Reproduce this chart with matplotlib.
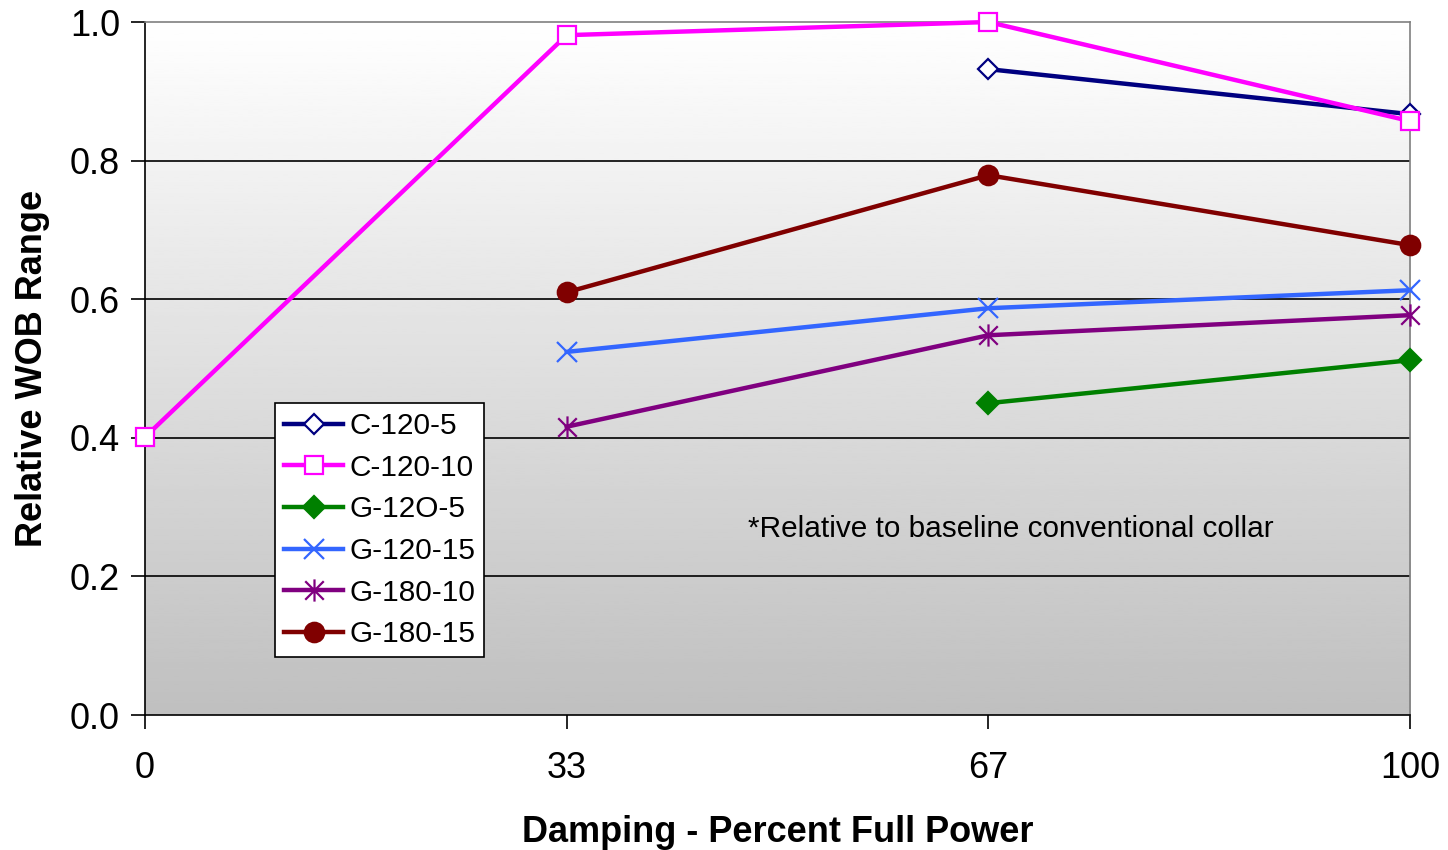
import numpy as np
import matplotlib.pyplot as plt
from matplotlib.path import Path

plt.rcParams['font.family'] = ['Liberation Sans', 'DejaVu Sans']

# Damping levels (categorical x axis)
damping = ['0', '33', '67', '100']

# Relative WOB range per configuration (None = not tested)
c120_5 = [None, None, 0.932, 0.867]
c120_10 = [0.401, 0.981, 1.0, 0.857]
g120_5 = [None, None, 0.450, 0.512]
g120_15 = [None, 0.524, 0.587, 0.613]
g180_10 = [None, 0.416, 0.548, 0.577]
g180_15 = [None, 0.610, 0.779, 0.678]

# x-plus-vertical asterisk marker
star = Path([(-1, -1), (1, 1), (-1, 1), (1, -1), (0, -1.2), (0, 1.2)],
            [Path.MOVETO, Path.LINETO, Path.MOVETO, Path.LINETO, Path.MOVETO, Path.LINETO])

series = [
    ('C-120-5', c120_5, '#000080', 'D', 'white', 10),
    ('C-120-10', c120_10, '#ff00ff', 's', 'white', 13),
    ('G-12O-5', g120_5, '#008000', 'D', '#008000', 11),
    ('G-120-15', g120_15, '#3366ff', 'x', '#3366ff', 15),
    ('G-180-10', g180_10, '#800080', star, '#800080', 16),
    ('G-180-15', g180_15, '#800000', 'o', '#800000', 14),
]

fig = plt.figure(figsize=(14.48, 8.5), dpi=100)
ax = fig.add_axes([0.1001, 0.1588, 0.8737, 0.8153])

# vertical white-to-gray gradient behind the plot (white at top)
grad = np.linspace(1.0, 0.75, 256).reshape(-1, 1)
ax.imshow(grad, cmap='gray', vmin=0, vmax=1, aspect='auto',
          extent=[0, 1, 0, 1], transform=ax.transAxes, zorder=0)

x = np.arange(len(damping))
for name, vals, color, marker, face, ms in series:
    y = np.array([np.nan if v is None else v for v in vals])
    ax.plot(x, y, color=color, lw=3.2, marker=marker, markersize=ms,
            markerfacecolor=face, markeredgecolor=color, markeredgewidth=1.6,
            label=name, zorder=3, clip_on=False)

ax.set_xlim(0, 3)
ax.set_ylim(0, 1.0)
ax.set_xticks(x)
ax.set_xticklabels(damping)
ax.set_yticks(np.arange(0, 1.01, 0.2))
ax.set_yticklabels([f'{v:.1f}' for v in np.arange(0, 1.01, 0.2)])
for gy in [0.2, 0.4, 0.6, 0.8]:
    ax.axhline(gy, color='black', lw=1.2, zorder=1)

ax.tick_params(axis='both', direction='out', length=10, width=1.2,
               labelsize=26, colors='black')
ax.tick_params(axis='x', pad=16)
ax.tick_params(axis='y', pad=8)
for s in ['left', 'bottom']:
    ax.spines[s].set_color('black')
    ax.spines[s].set_linewidth(1.2)
for s in ['top', 'right']:
    ax.spines[s].set_color('#808080')
    ax.spines[s].set_linewidth(1.2)

ax.set_xlabel('Damping - Percent Full Power', fontsize=26, fontweight='bold', labelpad=21)
ax.set_ylabel('Relative WOB Range', fontsize=26, fontweight='bold', labelpad=14)

ax.text(0.477, 0.268, '*Relative to baseline conventional collar', transform=ax.transAxes,
        fontsize=21.4, ha='left', va='center')

leg = ax.legend(loc='upper left', bbox_to_anchor=(0.1028, 0.450), borderaxespad=0,
                fontsize=21.4, frameon=True, fancybox=False, framealpha=1,
                edgecolor='black', handlelength=2.0, handletextpad=0.2,
                labelspacing=0.46, borderpad=0.3)
leg.get_frame().set_linewidth(1.2)

fig.savefig('out.png', dpi=100)
